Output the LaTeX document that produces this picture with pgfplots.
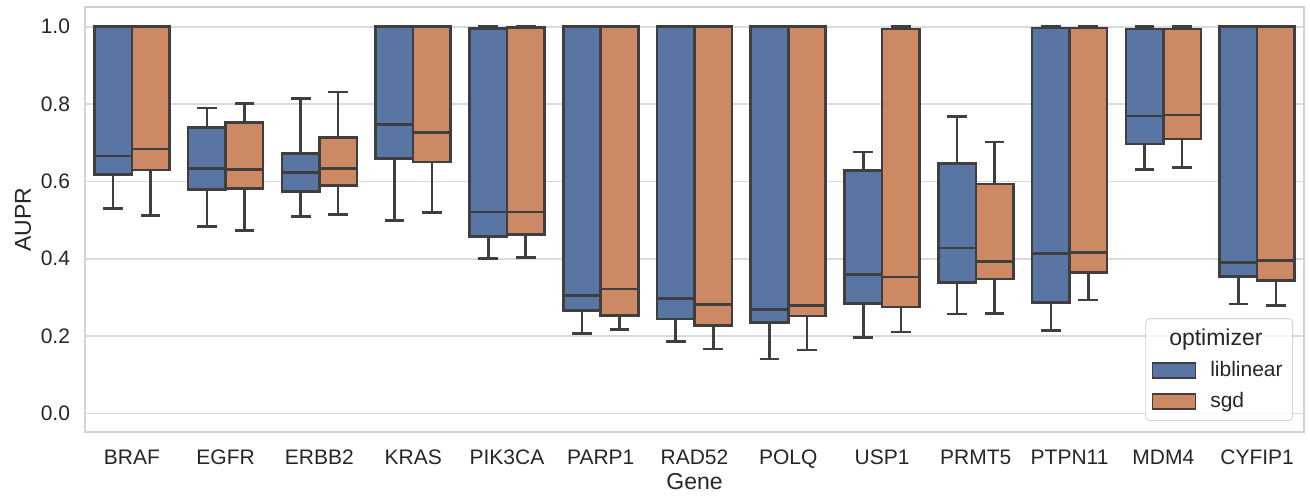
\documentclass[border=0pt]{standalone}
\usepackage{fontspec}
\setmainfont{Liberation Sans}
\usepackage{pgfplots}
\pgfplotsset{compat=1.18}
\usepgfplotslibrary{statistics}
\definecolor{blueC}{RGB}{88,117,164}
\definecolor{orangeC}{RGB}{204,137,99}
\definecolor{edgeC}{RGB}{63,63,63}
\definecolor{gridC}{RGB}{218,218,218}
\definecolor{frameC}{RGB}{210,210,210}
\definecolor{txtC}{RGB}{38,38,38}
\newcommand{\bx}[7]{\addplot[forget plot, draw=edgeC, fill=#7, line width=1.3bp,
  boxplot/draw direction=y,
  boxplot prepared={draw position=#1, lower whisker=#2, lower quartile=#3, median=#4,
  upper quartile=#5, upper whisker=#6, box extend=0.4, whisker extend=0.21}] coordinates {};}
\begin{document}
\begin{tikzpicture}[font=\fontsize{10.5bp}{12.6bp}\selectfont, text=txtC]
\begin{axis}[
  scale only axis, width=609.5bp, height=212.5bp,
  xmin=-0.5, xmax=12.5, ymin=-0.048, ymax=1.051,
  xtick={0,...,12},
  xticklabels={BRAF,EGFR,ERBB2,KRAS,PIK3CA,PARP1,RAD52,POLQ,USP1,PRMT5,PTPN11,MDM4,CYFIP1},
  ytick={0,0.2,0.4,0.6,0.8,1.0},
  /pgf/number format/assume math mode=true,
  yticklabel style={/pgf/number format/fixed, /pgf/number format/precision=1, /pgf/number format/fixed zerofill, xshift=-4bp},
  xticklabel style={yshift=-5.5bp},
  major tick length=0pt,
  ymajorgrids, grid style={color=gridC, line width=0.8bp},
  axis line style={color=frameC, line width=1bp},
  xlabel={Gene}, ylabel={AUPR},
  label style={font=\fontsize{11.5bp}{13.8bp}\selectfont},
  xlabel style={yshift=4.5bp},
  ylabel style={yshift=-2bp},
  legend style={at={(1,0)}, anchor=south east, xshift=-5.5bp, yshift=5.5bp,
    draw=frameC, rounded corners=2bp, fill=white, fill opacity=0.8, text opacity=1,
    row sep=2.5bp, inner xsep=3bp, inner ysep=3bp, font=\fontsize{10.5bp}{12.6bp}\selectfont,
    /tikz/every odd column/.append style={column sep=5bp}},
  legend cell align=left,
]
\addlegendimage{empty legend}
\addlegendentry{\hspace{-20.5bp}\fontsize{11.5bp}{13.8bp}\selectfont optimizer}
\addlegendimage{legend image code/.code={\draw[sharp corners, draw=edgeC, fill=blueC, fill opacity=1, draw opacity=1, line width=0.8bp] (0bp,-3.75bp) rectangle (21.5bp,3.75bp);}}
\addlegendentry{liblinear}
\addlegendimage{legend image code/.code={\draw[sharp corners, draw=edgeC, fill=orangeC, fill opacity=1, draw opacity=1, line width=0.8bp] (0bp,-3.75bp) rectangle (21.5bp,3.75bp);}}
\addlegendentry{sgd}
% pos, lower whisker, Q1, median, Q3, upper whisker
\bx{-0.2}{0.530}{0.618}{0.666}{1.000}{1.000}{blueC}
\bx{0.2}{0.512}{0.629}{0.684}{1.000}{1.000}{orangeC}
\bx{0.8}{0.484}{0.579}{0.634}{0.740}{0.790}{blueC}
\bx{1.2}{0.473}{0.582}{0.631}{0.753}{0.801}{orangeC}
\bx{1.8}{0.509}{0.574}{0.623}{0.672}{0.815}{blueC}
\bx{2.2}{0.515}{0.589}{0.634}{0.714}{0.831}{orangeC}
\bx{2.8}{0.499}{0.659}{0.747}{1.000}{1.000}{blueC}
\bx{3.2}{0.519}{0.650}{0.726}{1.000}{1.000}{orangeC}
\bx{3.8}{0.401}{0.458}{0.521}{0.995}{1.000}{blueC}
\bx{4.2}{0.404}{0.463}{0.521}{0.998}{1.000}{orangeC}
\bx{4.8}{0.206}{0.266}{0.305}{1.000}{1.000}{blueC}
\bx{5.2}{0.217}{0.253}{0.322}{1.000}{1.000}{orangeC}
\bx{5.8}{0.186}{0.244}{0.297}{1.000}{1.000}{blueC}
\bx{6.2}{0.167}{0.227}{0.282}{1.000}{1.000}{orangeC}
\bx{6.8}{0.141}{0.235}{0.268}{1.000}{1.000}{blueC}
\bx{7.2}{0.164}{0.252}{0.279}{1.000}{1.000}{orangeC}
\bx{7.8}{0.196}{0.284}{0.359}{0.628}{0.676}{blueC}
\bx{8.2}{0.211}{0.275}{0.353}{0.994}{1.000}{orangeC}
\bx{8.8}{0.257}{0.338}{0.428}{0.646}{0.768}{blueC}
\bx{9.2}{0.259}{0.348}{0.393}{0.593}{0.702}{orangeC}
\bx{9.8}{0.214}{0.287}{0.414}{0.997}{1.000}{blueC}
\bx{10.2}{0.293}{0.365}{0.416}{0.997}{1.000}{orangeC}
\bx{10.8}{0.631}{0.697}{0.769}{0.994}{1.000}{blueC}
\bx{11.2}{0.636}{0.710}{0.772}{0.994}{1.000}{orangeC}
\bx{11.8}{0.283}{0.354}{0.391}{1.000}{1.000}{blueC}
\bx{12.2}{0.279}{0.343}{0.396}{1.000}{1.000}{orangeC}
\end{axis}
\pgfresetboundingbox
\path ([shift={(-42.5bp,-32.5bp)}]current axis.south west) rectangle ([shift={(3bp,3.5bp)}]current axis.north east);
\end{tikzpicture}
\end{document}
